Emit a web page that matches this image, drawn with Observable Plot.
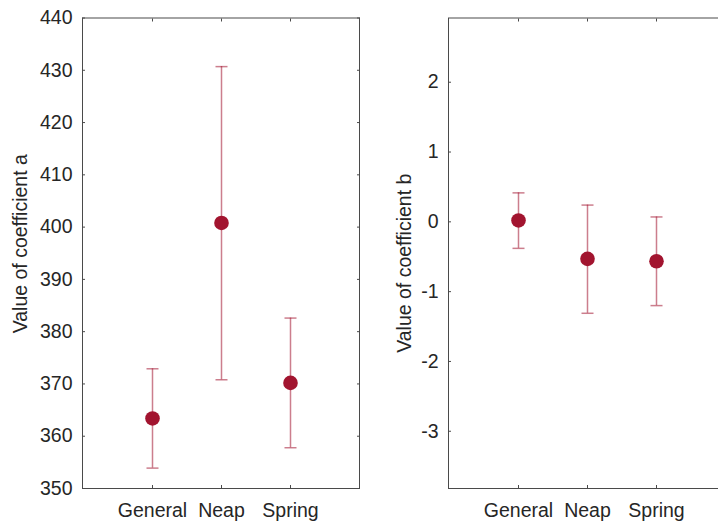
<!DOCTYPE html>
<html>
<head>
<meta charset="utf-8">
<script src="https://cdn.jsdelivr.net/npm/d3@7"></script>
<script src="https://cdn.jsdelivr.net/npm/@observablehq/plot@0.6"></script>
<style>
  html, body { margin: 0; padding: 0; background: #fff; }
  #wrap { position: relative; width: 718px; height: 522px; overflow: hidden; background: #fff; }
  #wrap > div, #wrap > svg { position: absolute; top: 0; }
</style>
</head>
<body>
<div id="wrap"></div>
<script>
const categories = ["General", "Neap", "Spring"];

const aValues = [363.4, 400.8, 370.2];
const aLower  = [353.9, 370.8, 357.8];
const aUpper  = [372.9, 430.7, 382.6];
const aTicks  = [350, 360, 370, 380, 390, 400, 410, 420, 430, 440];

const bValues = [0.02, -0.53, -0.565];
const bLower  = [-0.38, -1.31, -1.2];
const bUpper  = [0.415, 0.24, 0.07];
const bTicks  = [-3, -2, -1, 0, 1, 2];

const pointColor = "#A2142F";
const axisColor = "#4a4a4a";
const textColor = "#262626";

function rows(vals, lo, hi) {
  return categories.map((c, i) => ({cat: c, v: vals[i], lo: lo[i], hi: hi[i]}));
}

const capSymbol = {
  draw(context, size) {
    const r = 6;
    context.moveTo(-r, 0);
    context.lineTo(r, 0);
  }
};

function panel({data, domain, ticks, label, width, marginLeft, marginRight, labelDx, labelDy}) {
  return Plot.plot({
    width, height: 522,
    marginLeft, marginRight, marginTop: 17.5, marginBottom: 34,
    style: {fontFamily: "'Liberation Sans', Arial, sans-serif", fontSize: "19.5px", color: textColor, background: "transparent", overflow: "visible"},
    x: {type: "point", domain: categories, padding: 1},
    y: {domain},
    marks: [
      Plot.frame({stroke: axisColor, strokeWidth: 1}),
      // tick labels
      Plot.axisY(ticks, {anchor: "left", tickSize: 0, tickPadding: 10, label: null, fill: textColor, tickFormat: d => String(d)}),
      Plot.axisX({anchor: "bottom", tickSize: 0, tickPadding: 15, label: null, fill: textColor}),
      // inward tick marks on all four sides
      Plot.axisY(ticks, {anchor: "left", tickSize: 3, dx: 3, tickFormat: () => "", label: null, stroke: axisColor}),
      Plot.axisY(ticks, {anchor: "right", tickSize: 3, dx: -3, tickFormat: () => "", label: null, stroke: axisColor}),
      Plot.axisX({anchor: "bottom", tickSize: 3, dy: -3, tickFormat: () => "", label: null, stroke: axisColor}),
      Plot.axisX({anchor: "top", tickSize: 3, dy: 3, tickFormat: () => "", label: null, stroke: axisColor}),
      // axis title
      Plot.text([label], {frameAnchor: "left", text: d => d, rotate: -90, dx: labelDx, dy: labelDy, fill: textColor, fontSize: 19.5, textAnchor: "middle", lineAnchor: "middle"}),
      // error bars
      Plot.ruleX(data, {x: "cat", y1: "lo", y2: "hi", stroke: pointColor, strokeOpacity: 0.55, strokeWidth: 1.5}),
      Plot.dot(data, {x: "cat", y: "lo", symbol: capSymbol, r: 6, stroke: pointColor, strokeOpacity: 0.55, strokeWidth: 1.5, fill: "none"}),
      Plot.dot(data, {x: "cat", y: "hi", symbol: capSymbol, r: 6, stroke: pointColor, strokeOpacity: 0.55, strokeWidth: 1.5, fill: "none"}),
      // points
      Plot.dot(data, {x: "cat", y: "v", r: 7.3, fill: pointColor, stroke: "none"})
    ]
  });
}

const left = panel({
  data: rows(aValues, aLower, aUpper),
  domain: [350, 440], ticks: aTicks,
  label: "Value of coefficient a",
  width: 370, marginLeft: 82, marginRight: 11,
  labelDx: -62, labelDy: -9.5
});
left.style.left = "0px";

const right = panel({
  data: rows(bValues, bLower, bUpper),
  domain: [-3.82, 2.92], ticks: bTicks,
  label: "Value of coefficient b",
  width: 356, marginLeft: 78, marginRight: 0,
  labelDx: -44, labelDy: 10
});
right.style.left = "370px";

const wrap = document.getElementById("wrap");
wrap.appendChild(left);
wrap.appendChild(right);
</script>
</body>
</html>
